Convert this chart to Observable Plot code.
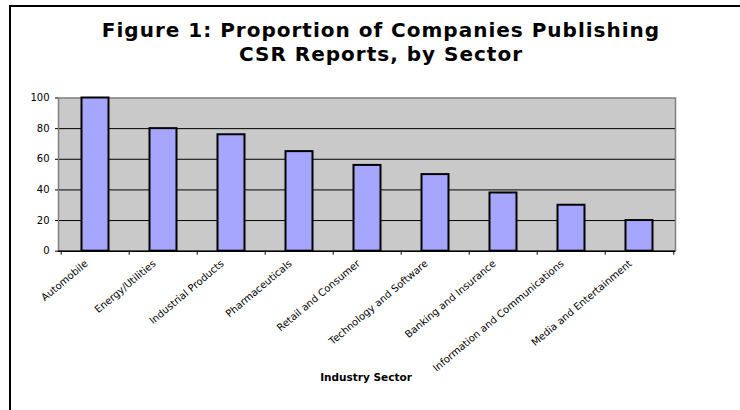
<!DOCTYPE html>
<html><head><meta charset="utf-8">
<script src="https://cdn.jsdelivr.net/npm/d3@7"></script>
<script src="https://cdn.jsdelivr.net/npm/@observablehq/plot@0.6"></script>
<style>
body{margin:0;background:#fff;}
#wrap{position:relative;width:740px;height:410px;overflow:hidden;font-family:"DejaVu Sans",Verdana,sans-serif;background:#fff;}
#border{position:absolute;left:9px;top:5px;width:800px;height:500px;border-left:2px solid #000;border-top:2px solid #000;}
#title{position:absolute;left:0;top:18px;width:762px;text-align:center;font-weight:bold;font-size:20px;letter-spacing:1px;line-height:24px;color:#000;white-space:nowrap;}
#xlabel{position:absolute;left:0;width:732px;top:371px;text-align:center;font-weight:bold;font-size:10.5px;color:#000;}
#chart{position:absolute;left:0;top:0;}
</style></head>
<body>
<div id="wrap">
  <div id="border"></div>
  <div id="chart"></div>
  <div id="title">Figure 1: Proportion of Companies Publishing<br>CSR Reports, by Sector</div>
  <div id="xlabel">Industry Sector</div>
</div>
<script>
const sectors = ["Automobile","Energy/Utilities","Industrial Products","Pharmaceuticals","Retail and Consumer","Technology and Software","Banking and Insurance","Information and Communications","Media and Entertainment"];
const values = [100, 80, 76, 65, 56, 50, 38, 30, 20];
const yTicks = [0, 20, 40, 60, 80, 100];
const gridLines = [20, 40, 60, 80];

const data = sectors.map((s, i) => ({sector: s, value: values[i]}));

const W = 740, H = 410, mL = 58, mR = 65, mT = 97.5, mB = 159.3;
const bw = (W - mL - mR) / sectors.length;

const chart = Plot.plot({
  width: W, height: H,
  marginLeft: mL, marginRight: mR, marginTop: mT, marginBottom: mB,
  style: {fontFamily: "DejaVu Sans, Verdana, sans-serif", fontSize: "10px", background: "transparent", color: "#000", overflow: "visible"},
  x: {domain: sectors, padding: 0},
  y: {domain: [0, 100]},
  marks: [
    Plot.frame({fill: "#c9c9c9"}),
    Plot.ruleY(gridLines, {stroke: "#000", strokeWidth: 1}),
    Plot.frame({stroke: "#808080", strokeWidth: 1.5}),
    Plot.barY(data, {x: "sector", y: "value", fill: "#a6a6ff", stroke: "#000", strokeWidth: 2, insetLeft: 20.5, insetRight: 20.5}),
    Plot.ruleY([0], {stroke: "#000", strokeWidth: 1.5}),
    Plot.ruleX(sectors, {x: d => d, y1: 0, y2: 0, insetBottom: -4, dx: -bw / 2, stroke: "#000"}),
    Plot.ruleX([sectors[sectors.length - 1]], {x: d => d, y1: 0, y2: 0, insetBottom: -4, dx: bw / 2, stroke: "#000"}),
    Plot.axisY({ticks: yTicks, tickSize: 3, tickPadding: 6, label: null, stroke: "#000"}),
    Plot.axisX({tickSize: 0, tickRotate: -40, tickPadding: 8, label: null, dx: -9, dy: 3})
  ]
});
document.getElementById("chart").appendChild(chart);
</script>
</body></html>
